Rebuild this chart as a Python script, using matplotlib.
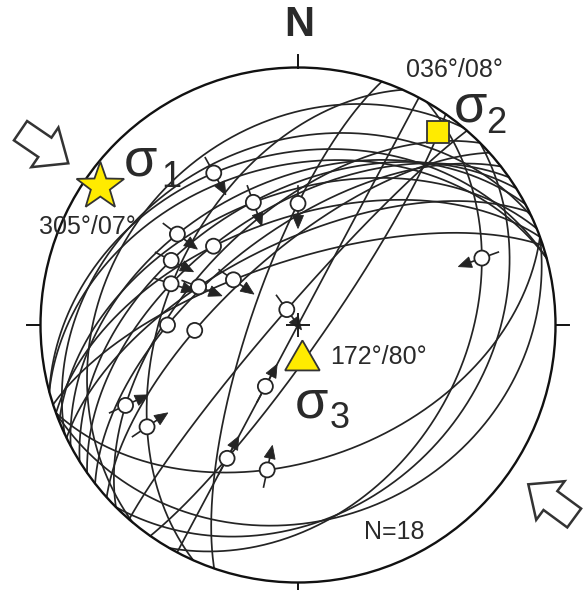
import numpy as np
import matplotlib
matplotlib.use("Agg")
import matplotlib.pyplot as plt
from matplotlib.patches import Circle, Polygon, Rectangle, RegularPolygon

plt.rcParams['font.family'] = ['Liberation Sans', 'DejaVu Sans']

# ---------------- data ----------------
# azimuth of the NE end of each fault great circle (strike line, deg)
plane_strike = [75, 68, 19, 62, 70, 58, 55, 64, 72, 41, 52, 48, 45, 24, 28, 35, 70, 30]
# striae (slickenline) trend / plunge, deg
striae_trend = [331, 340, 0, 307, 313, 297, 288, 291, 305, 324, 270, 267, 245, 236, 208, 208, 192, 70]
striae_plunge = [33, 48, 51, 41, 53, 44, 47, 56, 65, 84, 48, 57, 27, 30, 68, 41, 42, 25]
# 'r' = sense of slip shown (arrow), '' = no sense shown
slip_sense = ['r', 'r', 'r', 'r', '', 'r', 'r', 'r', 'r', 'r', '', '', 'r', 'r', 'r', 'r', 'r', 'r']
# further planes seen in the net (dip direction / dip)
extra_dipdir = [310, 335, 345, 160, 135]
extra_dip = [27, 30, 38, 25, 30]

stress_names = ['1', '2', '3']
stress_trend = [305, 36, 172]
stress_plunge = [7, 8, 80]
stress_text = ['305°/07°', '036°/08°', '172°/80°']
count_label = 'N=18'
north_label = 'N'

# ---------------- geometry helpers ----------------
W, H = 584, 590
CX, CY, RPX = 298.0, 325.0, 257.5


def P(px, py):
    return ((px - CX) / RPX, (CY - py) / RPX)


def L(n):
    return n / RPX


def vec(trend, plunge):
    t, p = np.radians(trend), np.radians(plunge)
    return np.array([np.sin(t) * np.cos(p), np.cos(t) * np.cos(p), -np.sin(p)])


def proj(v):
    v = np.atleast_2d(v).astype(float)
    v = np.where(v[:, 2:3] > 0, -v, v)
    f = 1.0 / np.sqrt(1.0 - v[:, 2])
    return v[:, 0] * f, v[:, 1] * f


def great_circle_from(s_vec, d_vec, n=400):
    th = np.linspace(0, np.pi, n)
    pts = np.outer(np.cos(th), s_vec) + np.outer(np.sin(th), d_vec)
    return proj(pts)


fig = plt.figure(figsize=(W / 100, H / 100), dpi=100)
ax = fig.add_axes([0, 0, 1, 1])
ax.set_xlim(-CX / RPX, (W - CX) / RPX)
ax.set_ylim(-(H - CY) / RPX, CY / RPX)
ax.axis('off')

LC = '#242424'

# fault planes with striae
marker_xy = []
for s, t, p in zip(plane_strike, striae_trend, striae_plunge):
    s_vec = np.array([np.sin(np.radians(s)), np.cos(np.radians(s)), 0.0])
    v = vec(t, p)
    nrm = np.cross(s_vec, v)
    d = np.cross(nrm, s_vec)
    d /= np.linalg.norm(d)
    if d[2] > 0:
        d = -d
    x, y = great_circle_from(s_vec, d)
    ax.plot(x, y, color=LC, lw=1.25, zorder=2, solid_capstyle='round')
    mx, my = proj(v)
    marker_xy.append((mx[0], my[0]))

for dd, dp in zip(extra_dipdir, extra_dip):
    s = dd - 90
    s_vec = np.array([np.sin(np.radians(s)), np.cos(np.radians(s)), 0.0])
    d = vec(dd, dp)
    x, y = great_circle_from(s_vec, d)
    ax.plot(x, y, color=LC, lw=1.25, zorder=2)

# primitive circle and ticks
ax.add_patch(Circle((0, 0), 1.0, fill=False, ec='#111111', lw=1.7, zorder=3))
for a in [0, 90, 180, 270]:
    r = np.radians(a)
    ax.plot([np.sin(r) * 1.0, np.sin(r) * (1 + L(13))],
            [np.cos(r) * 1.0, np.cos(r) * (1 + L(13))], color='#111111', lw=1.4, zorder=3)

# center cross
ax.plot([0], [0], marker='+', ms=17, mew=1.4, color='#1e1e1e', zorder=6)

# striae markers
rc = L(7.5)
for (mx, my), sense in zip(marker_xy, slip_sense):
    r = np.hypot(mx, my)
    u = np.array([-mx, -my]) / r  # toward centre
    perp = np.array([-u[1], u[0]])
    c = np.array([mx, my])
    if sense:
        a0 = c - u * rc
        a1 = c - u * (rc + L(10))
        ax.plot([a0[0], a1[0]], [a0[1], a1[1]], color=LC, lw=1.2, zorder=5)
        b0 = c + u * rc
        b1 = c + u * L(12)
        ax.plot([b0[0], b1[0]], [b0[1], b1[1]], color=LC, lw=1.2, zorder=5)
        tip = c + u * L(25)
        base = c + u * L(12)
        tri = [tip, base + perp * L(5.5), base - perp * L(5.5)]
        ax.add_patch(Polygon(tri, closed=True, fc=LC, ec=LC, lw=0.6, zorder=5))
    ax.add_patch(Circle((mx, my), rc, fc='white', ec=LC, lw=1.3, zorder=6))

# principal stress axes
YEL = '#FFEB00'
EC = '#333333'
sx, sy = proj(vec(stress_trend[0], stress_plunge[0]))
ro, ri = L(25), L(10)
ang = np.radians(90 + np.arange(10) * 36)
rad = np.where(np.arange(10) % 2 == 0, ro, ri)
star = np.column_stack([sx[0] + rad * np.cos(ang), sy[0] + rad * np.sin(ang)])
ax.add_patch(Polygon(star, closed=True, fc=YEL, ec=EC, lw=1.3, zorder=7))

qx, qy = proj(vec(stress_trend[1], stress_plunge[1]))
sq = L(22)
ax.add_patch(Rectangle((qx[0] - sq / 2, qy[0] - sq / 2), sq, sq, fc=YEL, ec=EC, lw=1.3, zorder=7))

tx, ty = proj(vec(stress_trend[2], stress_plunge[2]))
ax.add_patch(RegularPolygon((tx[0], ty[0] - L(4)), 3, radius=L(20), orientation=0,
                            fc=YEL, ec=EC, lw=1.3, zorder=7))

TC = '#2a2a2a'
sig_pos = [((124, 176), (161, 187)), ((454, 121), (486, 133)), ((295, 418), (330, 428))]
for name, (sp, subp) in zip(stress_names, sig_pos):
    ax.text(*P(*sp), 'σ', fontsize=39, color=TC, ha='left', va='baseline', zorder=8)
    ax.text(*P(*subp), name, fontsize=26, color=TC, ha='left', va='baseline', zorder=8)

ax.text(*P(87, 227), stress_text[0], fontsize=18, color=TC, ha='center', va='center', zorder=8)
ax.text(*P(454, 70), stress_text[1], fontsize=18, color=TC, ha='center', va='center', zorder=8)
ax.text(*P(330, 357), stress_text[2], fontsize=18, color=TC, ha='left', va='center', zorder=8)
ax.text(*P(394, 532), count_label, fontsize=18, color=TC, ha='center', va='center', zorder=8)
ax.text(*P(299, 25), north_label, fontsize=30, fontweight='bold', color=TC,
        ha='center', va='center', zorder=8)


def block_arrow(back_px, tip_px, shaft_hw=11.7, head_hw=24.0, head_base=29.5):
    b = np.array(P(*back_px))
    t = np.array(P(*tip_px))
    d = t - b
    u = d / np.linalg.norm(d)
    pp = np.array([-u[1], u[0]])
    pts = [b + pp * L(shaft_hw),
           b + u * L(head_base) + pp * L(shaft_hw),
           b + u * L(head_base) + pp * L(head_hw),
           t,
           b + u * L(head_base) - pp * L(head_hw),
           b + u * L(head_base) - pp * L(shaft_hw),
           b - pp * L(shaft_hw)]
    ax.add_patch(Polygon(pts, closed=True, fc='white', ec='#333333', lw=1.8,
                         joinstyle='miter', zorder=8))


block_arrow((20.5, 130.7), (68.3, 163.3))
block_arrow((574.2, 518.0), (528.3, 484.3))

fig.savefig('out.png', dpi=100)
